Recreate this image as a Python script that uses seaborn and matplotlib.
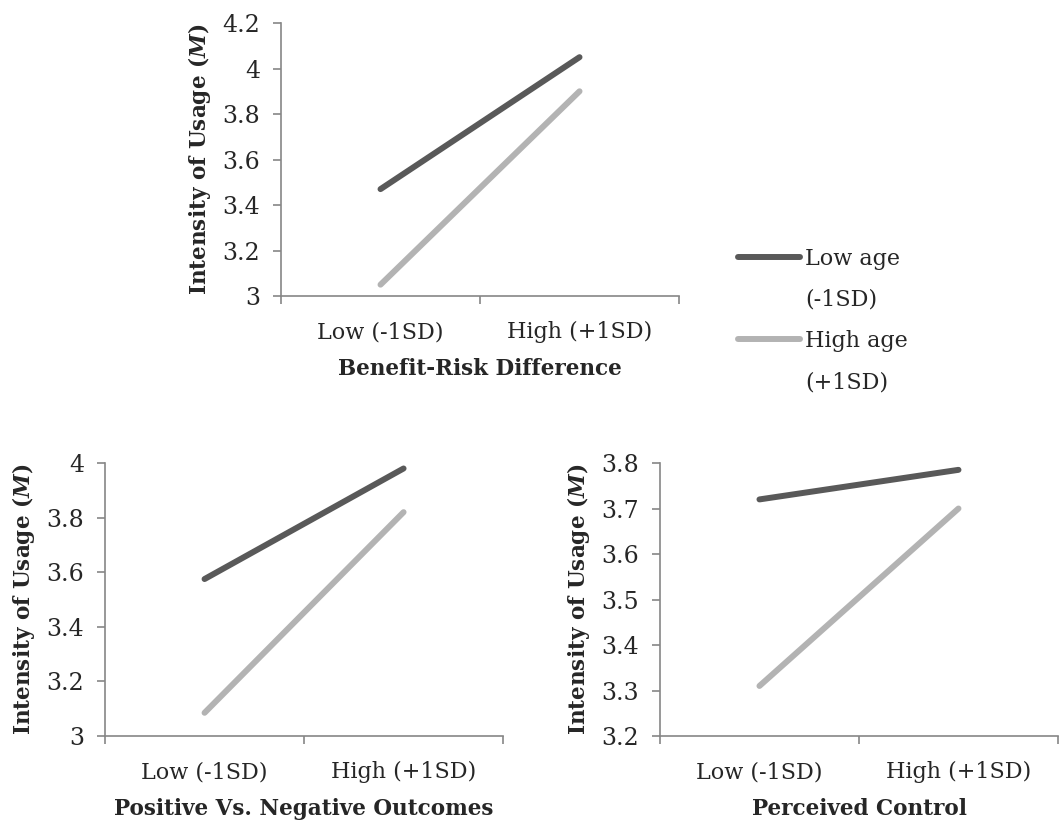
import pandas as pd
import seaborn as sns
import matplotlib.pyplot as plt
from matplotlib.lines import Line2D

# values
levels = ['Low (-1SD)', 'High (+1SD)']
groups = ['Low age (-1SD)', 'High age (+1SD)']

benefit_low_age = [3.47, 4.05]
benefit_high_age = [3.05, 3.90]
outcomes_low_age = [3.575, 3.98]
outcomes_high_age = [3.085, 3.82]
control_low_age = [3.72, 3.785]
control_high_age = [3.31, 3.70]

panel_titles = ['Benefit-Risk Difference', 'Positive Vs. Negative Outcomes', 'Perceived Control']
y_ticks = [
    [3, 3.2, 3.4, 3.6, 3.8, 4, 4.2],
    [3, 3.2, 3.4, 3.6, 3.8, 4],
    [3.2, 3.3, 3.4, 3.5, 3.6, 3.7, 3.8],
]
y_tick_labels = [
    ['3', '3.2', '3.4', '3.6', '3.8', '4', '4.2'],
    ['3', '3.2', '3.4', '3.6', '3.8', '4'],
    ['3.2', '3.3', '3.4', '3.5', '3.6', '3.7', '3.8'],
]

def make_frame(low_age, high_age):
    return pd.DataFrame({
        'level': levels * 2,
        'x': [0, 1, 0, 1],
        'value': low_age + high_age,
        'group': [groups[0]] * 2 + [groups[1]] * 2,
    })

frames = [
    make_frame(benefit_low_age, benefit_high_age),
    make_frame(outcomes_low_age, outcomes_high_age),
    make_frame(control_low_age, control_high_age),
]

sns.set_style('white')
plt.rcParams['font.family'] = ['DejaVu Serif']
plt.rcParams['mathtext.fontset'] = 'custom'
plt.rcParams['mathtext.it'] = 'DejaVu Serif:italic:bold'
plt.rcParams['mathtext.rm'] = 'DejaVu Serif:bold'

palette = {groups[0]: '#595959', groups[1]: '#b3b3b3'}
axis_color = '#868686'

fig = plt.figure(figsize=(10.6, 8.23), dpi=100)
positions = [
    [0.2651, 0.6403, 0.3755, 0.3317],
    [0.0991, 0.1057, 0.3755, 0.3317],
    [0.6226, 0.1057, 0.3755, 0.3317],
]

for i, (pos, df) in enumerate(zip(positions, frames)):
    ax = fig.add_axes(pos)
    sns.lineplot(data=df, x='x', y='value', hue='group', palette=palette,
                 linewidth=4.3, ax=ax, legend=False, solid_capstyle='round')
    ax.set_xlim(-0.5, 1.5)
    ax.set_ylim(y_ticks[i][0], y_ticks[i][-1])
    ax.set_xticks([0, 1])
    ax.set_xticklabels(levels, fontsize=16)
    ax.set_xticks([-0.5, 0.5, 1.5], minor=True)
    ax.tick_params(axis='x', which='major', length=0, pad=18)
    ax.tick_params(axis='x', which='minor', length=6, width=1.2, color=axis_color, direction='out', bottom=True)
    ax.set_yticks(y_ticks[i])
    ax.set_yticklabels(y_tick_labels[i], fontsize=17)
    ax.tick_params(axis='y', length=6, width=1.2, color=axis_color, direction='out', left=True, pad=9)
    for side in ['top', 'right']:
        ax.spines[side].set_visible(False)
    for side in ['left', 'bottom']:
        ax.spines[side].set_color(axis_color)
        ax.spines[side].set_linewidth(1.2)
    ax.set_xlabel(panel_titles[i], fontsize=15.5, fontweight='bold', labelpad=11)
    ax.set_ylabel(r'Intensity of Usage ($\it{M}$)', fontsize=15.5, fontweight='bold', labelpad=7)

handles = [
    Line2D([], [], color=palette[groups[0]], linewidth=4.3, solid_capstyle='round'),
    Line2D([], [], color='none'),
    Line2D([], [], color=palette[groups[1]], linewidth=4.3, solid_capstyle='round'),
    Line2D([], [], color='none'),
]
labels = ['Low age', '(-1SD)', 'High age', '(+1SD)']
fig.legend(handles, labels, loc='upper left', bbox_to_anchor=(0.688, 0.71),
           frameon=False, fontsize=16, handlelength=2.8, handletextpad=0.2,
           labelspacing=0.87, borderaxespad=0)

fig.savefig('out.png', dpi=100)
